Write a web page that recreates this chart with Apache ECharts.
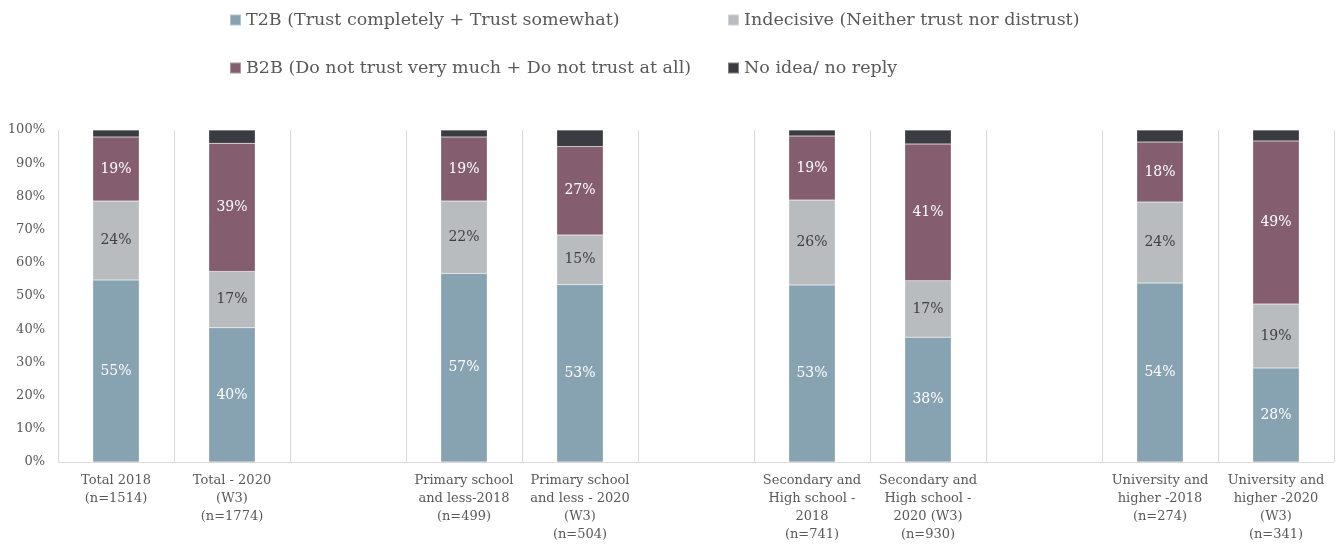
<!DOCTYPE html>
<html><head><meta charset="utf-8">
<script src="https://cdn.jsdelivr.net/npm/echarts@6/dist/echarts.min.js"></script>
<style>html,body{margin:0;padding:0;background:#fff}#c{width:1341px;height:544px}</style>
</head><body><div id="c"></div>
<script>
const categories = [
  "Total 2018\n(n=1514)",
  "Total - 2020\n(W3)\n(n=1774)",
  "",
  "Primary school\nand less-2018\n(n=499)",
  "Primary school\nand less - 2020\n(W3)\n(n=504)",
  "",
  "Secondary and\nHigh school -\n2018\n(n=741)",
  "Secondary and\nHigh school -\n2020 (W3)\n(n=930)",
  "",
  "University and\nhigher -2018\n(n=274)",
  "University and\nhigher -2020\n(W3)\n(n=341)"
];
const seriesNames = [
  "T2B (Trust completely + Trust somewhat)",
  "Indecisive (Neither trust nor distrust)",
  "B2B (Do not trust very much + Do not trust at all)",
  "No idea/ no reply"
];
const t2b      = [54.8, 40.4, null, 56.8, 53.4, null, 53.3, 37.6, null, 53.9, 28.3];
const indec    = [23.8, 17.0, null, 21.8, 15.0, null, 25.6, 17.0, null, 24.4, 19.3];
const b2b      = [19.3, 38.6, null, 19.3, 26.6, null, 19.3, 41.2, null, 18.1, 49.1];
const noIdea   = [2.1, 4.0, null, 2.1, 5.0, null, 1.8, 4.2, null, 3.6, 3.3];
const yTicks = {min: 0, max: 100, interval: 10};

const FONT = "DejaVu Serif";
const colors = ["#87a2b1", "#b9bcbf", "#845e6e", "#3a3c41"];
const labelColors = ["#ffffff", "#404040", "#ffffff", null];
const allData = [t2b, indec, b2b, noIdea];

const chart = echarts.init(document.getElementById('c'), null, {renderer: 'canvas'});
const series = seriesNames.map((n, i) => ({
  name: n,
  type: 'bar',
  stack: 'total',
  barWidth: '40%',
  data: allData[i],
  itemStyle: {color: colors[i], borderColor: 'rgba(255,255,255,0.35)', borderWidth: 0.5},
  label: {
    show: labelColors[i] !== null,
    position: 'inside',
    color: labelColors[i] || '#fff',
    fontFamily: FONT,
    fontSize: 14,
    formatter: p => p.value == null ? '' : Math.round(p.value) + '%'
  },
  emphasis: {disabled: true}
}));

const legendText = {fontFamily: FONT, fontSize: 17.5, color: '#595959', lineHeight: 22};
chart.setOption({
  animation: false,
  color: colors,
  legend: [
    {data: [seriesNames[0], seriesNames[2]], orient: 'vertical', left: 229, top: 9, padding: 0,
     itemWidth: 11, itemHeight: 11, itemGap: 26, icon: 'rect', textStyle: legendText, selectedMode: false},
    {data: [seriesNames[1], seriesNames[3]], orient: 'vertical', left: 727, top: 9, padding: 0,
     itemWidth: 11, itemHeight: 11, itemGap: 26, icon: 'rect', textStyle: legendText, selectedMode: false}
  ],
  grid: {left: 58, right: 7, top: 130, bottom: 78, containLabel: false},
  xAxis: {
    type: 'category',
    data: categories,
    axisLine: {lineStyle: {color: '#d9d9d9'}},
    axisTick: {show: false},
    splitLine: {show: true, interval: 0, lineStyle: {color: '#d9d9d9', width: 1}},
    axisLabel: {interval: 0, fontFamily: FONT, fontSize: 13, color: '#595959', lineHeight: 18, margin: 10}
  },
  yAxis: {
    type: 'value',
    min: yTicks.min, max: yTicks.max, interval: yTicks.interval,
    axisLine: {show: false},
    axisTick: {show: false},
    splitLine: {show: false},
    axisLabel: {formatter: '{value}%', fontFamily: FONT, fontSize: 13, color: '#595959', margin: 13}
  },
  series: series
});
</script></body></html>
